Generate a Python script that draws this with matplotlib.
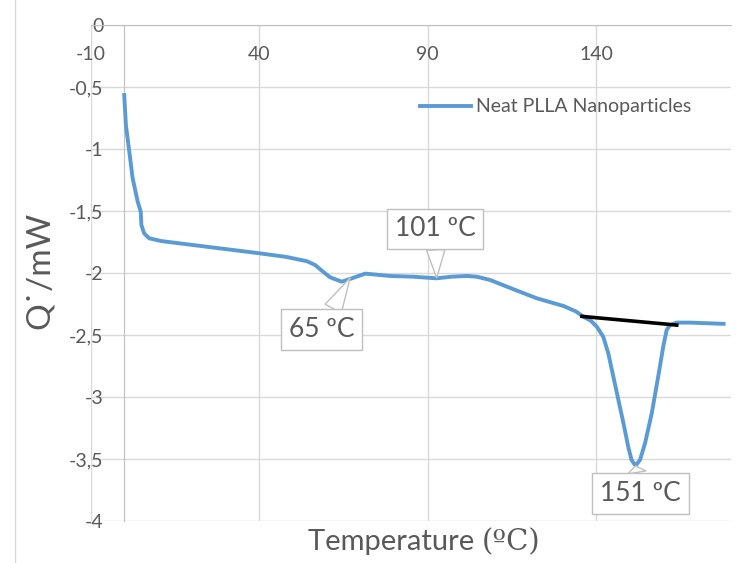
import numpy as np
import matplotlib
matplotlib.use("Agg")
import matplotlib.pyplot as plt
from matplotlib.patches import Rectangle
from matplotlib.ticker import FixedLocator, FuncFormatter

plt.rcParams['font.family'] = ['Lato', 'DejaVu Sans']
plt.rcParams['axes.unicode_minus'] = False

# =========================================================
# DSC curve
temperature = [0.0, 0.5, 1.5, 2.5, 4.0, 4.9, 5.1, 5.9, 7.4, 10.9, 13.8, 25.0,
               39.8, 48.0, 54.2, 56.6, 59.0, 61.1, 64.5, 67.0, 71.5, 78.9,
               85.8, 92.7, 97.0, 101.6, 104.6, 108.5, 116.5, 122.4, 130.3,
               134.0, 136.2, 138.4, 140.2, 142.1, 143.6, 145.1, 146.6, 148.1,
               149.5, 150.5, 151.7, 153.0, 154.5, 156.5, 158.4, 159.9, 160.9,
               161.9, 163.9, 167.8, 177.8]
heat_flow = [-0.565, -0.806, -1.02, -1.236, -1.425, -1.505, -1.613, -1.68,
             -1.72, -1.742, -1.752, -1.79, -1.84, -1.87, -1.905, -1.935, -1.99,
             -2.035, -2.07, -2.048, -2.005, -2.024, -2.03, -2.043, -2.03,
             -2.024, -2.03, -2.056, -2.142, -2.204, -2.266, -2.31, -2.352,
             -2.385, -2.433, -2.514, -2.648, -2.836, -3.024, -3.212, -3.40,
             -3.508, -3.554, -3.508, -3.373, -3.13, -2.836, -2.594, -2.46,
             -2.42, -2.40, -2.40, -2.41]

# baseline drawn under the melting peak
baseline_t = [135.8, 163.9]
baseline_q = [-2.35, -2.42]

# callouts: label, point on curve, box centre
callout_labels = ['65 ºC', '101 ºC', '151 ºC']
callout_points = [(67.0, -2.04), (92.7, -2.04), (151.7, -3.555)]
callout_boxes = [(58.6, -2.456), (92.2, -1.645), (153.1, -3.777)]

x_ticks = [-10, 40, 90, 140]
y_ticks = [0, -0.5, -1, -1.5, -2, -2.5, -3, -3.5, -4]

GREY_TXT = '#595959'
GRID = '#d9d9d9'
AXIS = '#bfbfbf'


def comma_fmt(v, pos):
    s = f'{v:g}'
    return s.replace('.', ',')


fig = plt.figure(figsize=(7.54, 5.63), dpi=100)
fig.patches.append(Rectangle((15 / 754, -0.2), 1.2, 1.2 + (1 - 10 / 563),
                             transform=fig.transFigure, fill=False,
                             ec=GRID, lw=1.0, zorder=0))

ax = fig.add_axes([90.5 / 754, 1 - 521 / 563, (731 - 90.5) / 754, 496 / 563])
ax.set_xlim(-10, 180)
ax.set_ylim(-4, 0)

ax.plot(temperature, heat_flow, color='#5b9bd5', lw=2.8,
        label='Neat PLLA Nanoparticles', zorder=3, solid_joinstyle='round')
ax.plot(baseline_t, baseline_q, color='black', lw=2.6, zorder=4)

# axes: x axis sits at y=0 (top), y axis crosses at x=0
for s in ['right', 'bottom']:
    ax.spines[s].set_visible(False)
ax.spines['top'].set_color(AXIS)
ax.spines['left'].set_position(('data', 0))
ax.spines['left'].set_color(AXIS)

ax.xaxis.set_major_locator(FixedLocator(x_ticks))
ax.yaxis.set_major_locator(FixedLocator(y_ticks))
ax.yaxis.set_major_formatter(FuncFormatter(comma_fmt))
ax.xaxis.tick_top()
ax.tick_params(axis='x', length=0, pad=-27, labelsize=14, labelcolor=GREY_TXT)
ax.tick_params(axis='y', length=0, pad=15, labelsize=14, labelcolor=GREY_TXT)
ax.grid(True, color=GRID, lw=1.0)
ax.set_axisbelow(True)

for lab, pt, box in zip(callout_labels, callout_points, callout_boxes):
    ax.annotate(lab, xy=pt, xytext=box, ha='center', va='center',
                fontsize=19, color=GREY_TXT, zorder=6,
                bbox=dict(boxstyle='square,pad=0.3', fc='white', ec=AXIS, lw=1.0),
                arrowprops=dict(arrowstyle='wedge,tail_width=0.7,shrink_factor=0.5',
                                fc='white', ec=AXIS, lw=1.0, shrinkA=0, shrinkB=0))

ax.legend(loc='center left', bbox_to_anchor=(0.5144, 0.8347), frameon=False,
          fontsize=14, labelcolor=GREY_TXT, handlelength=2.6, handletextpad=0.3,
          borderpad=0, borderaxespad=0)

fig.text(40 / 754, 1 - 270 / 563, 'Q˙/mW', rotation=90, ha='center', va='center',
         fontsize=24, color=GREY_TXT)
fig.text(482 / 754, 1 - 550 / 563, 'Temperature ', ha='right', va='baseline',
         fontsize=21, color=GREY_TXT)
fig.text(482 / 754, 1 - 550 / 563, '(ºC)', ha='left', va='baseline',
         fontsize=21, color=GREY_TXT, family=['DejaVu Serif', 'Liberation Serif'])

fig.savefig('out.png', dpi=100)
